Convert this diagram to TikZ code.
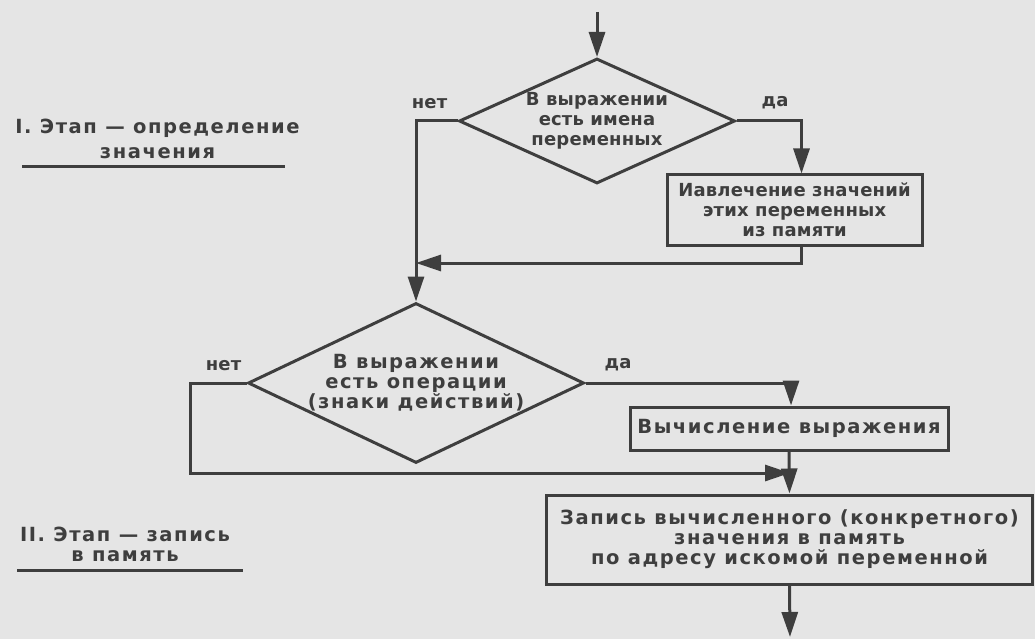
\documentclass[tikz,border=0pt]{standalone}
\usepackage{fontspec}
\setmainfont{DejaVu Sans}[LetterSpace=1]
\newfontfamily\widefont{DejaVu Sans}[LetterSpace=8]
\usepackage{tikz}
\usetikzlibrary{shapes.geometric, arrows.meta}
\usetikzlibrary{calc}
\definecolor{paper}{RGB}{229,229,229}
\definecolor{ink}{RGB}{62,62,62}
\tikzstyle{box} = [rectangle, draw = ink, line width=3pt, text = ink, align=center, inner sep=0pt]
\tikzstyle{decision} = [diamond, draw = ink, line width=3pt, text = ink, align=center, inner sep=0pt]
\tikzstyle{wide} = [font=\widefont\fontsize{19.5}{20}\selectfont\bfseries]
\tikzstyle{lbl} = [text = ink, inner sep=0pt]
\tikzstyle{line} = [draw = ink, line width=3pt]
\tikzstyle{arrow} = [line, -{Triangle[length=25pt, width=16pt]}]

\begin{document}
\begin{tikzpicture}[x=1pt, y=-1pt, font=\fontsize{18}{20}\selectfont\bfseries]
	\fill[paper] (0,0) rectangle (1035,639);
	\useasboundingbox (0,0) rectangle (1035,639);
	% stages on the left
	\node (S1) [lbl, wide, anchor=south, inner ysep=8pt, align=center] at (157.5,167) {I. Этап — определение\\[5pt]значения};
	\coordinate (U1a) at (22,167);
	\coordinate (U1b) at (285,167);
	\draw [line] (U1a) -- (U1b);
	\node (S2) [lbl, wide, anchor=south, inner ysep=8pt, align=center] at (125,570) {II. Этап — запись\\в память};
	\coordinate (U2a) at (17,570);
	\coordinate (U2b) at (243,570);
	\draw [line] (U2a) -- (U2b);
	% flow
	\coordinate (in) at (597,12);
	\node (D1) [decision, aspect=2.2, minimum width=276pt, minimum height=125pt] at (597,121) {В выражении\\есть имена\\переменных};
	\node (B1) [box, minimum width=255pt, minimum height=70pt] at (794.5,210) {Иавлечение значений\\этих переменных\\из памяти};
	\coordinate (M1) at (416,263);
	\node (D2) [decision, wide, aspect=2.1, minimum width=335pt, minimum height=159pt] at (416,383) {В выражении\\есть операции\\(знаки действий)};
	\node (B2) [box, wide, minimum width=318pt, minimum height=43pt] at (789,428.5) {Вычисление выражения};
	\coordinate (M2) at (790,473);
	\node (B3) [box, wide, minimum width=486pt, minimum height=89pt] at (789.5,539.5) {Запись вычисленного (конкретного)\\значения в память\\по адресу искомой переменной};
	\coordinate (out) at (790,637);
	% branch labels
	\node (N1) [lbl, anchor=south east, xshift=-10pt, yshift=12pt] at (D1.west) {нет};
	\node (Y1) [lbl, anchor=south west, xshift=25pt, yshift=12pt] at (D1.east) {да};
	\node (N2) [lbl, anchor=south east, xshift=-5pt, yshift=12pt] at (D2.west) {нет};
	\node (Y2) [lbl, anchor=south west, xshift=19pt, yshift=12pt] at (D2.east) {да};
	% connectors
	\draw [arrow] (in) -- (D1.north);
	\draw [arrow] (D1.west) -| (D2.north);
	\draw [arrow] (D1.east) -| ([xshift=7pt]B1.north);
	\draw [arrow] ([xshift=7pt]B1.south) |- (M1);
	\draw [arrow] (D2.west) -- ++(-56,0) |- (M2);
	\draw [arrow] (D2.east) -| ([xshift=2pt]B2.north);
	\draw [arrow] (B2.south) -- (B3.north);
	\draw [arrow] (B3.south) -- (out);
\end{tikzpicture}
\end{document}
